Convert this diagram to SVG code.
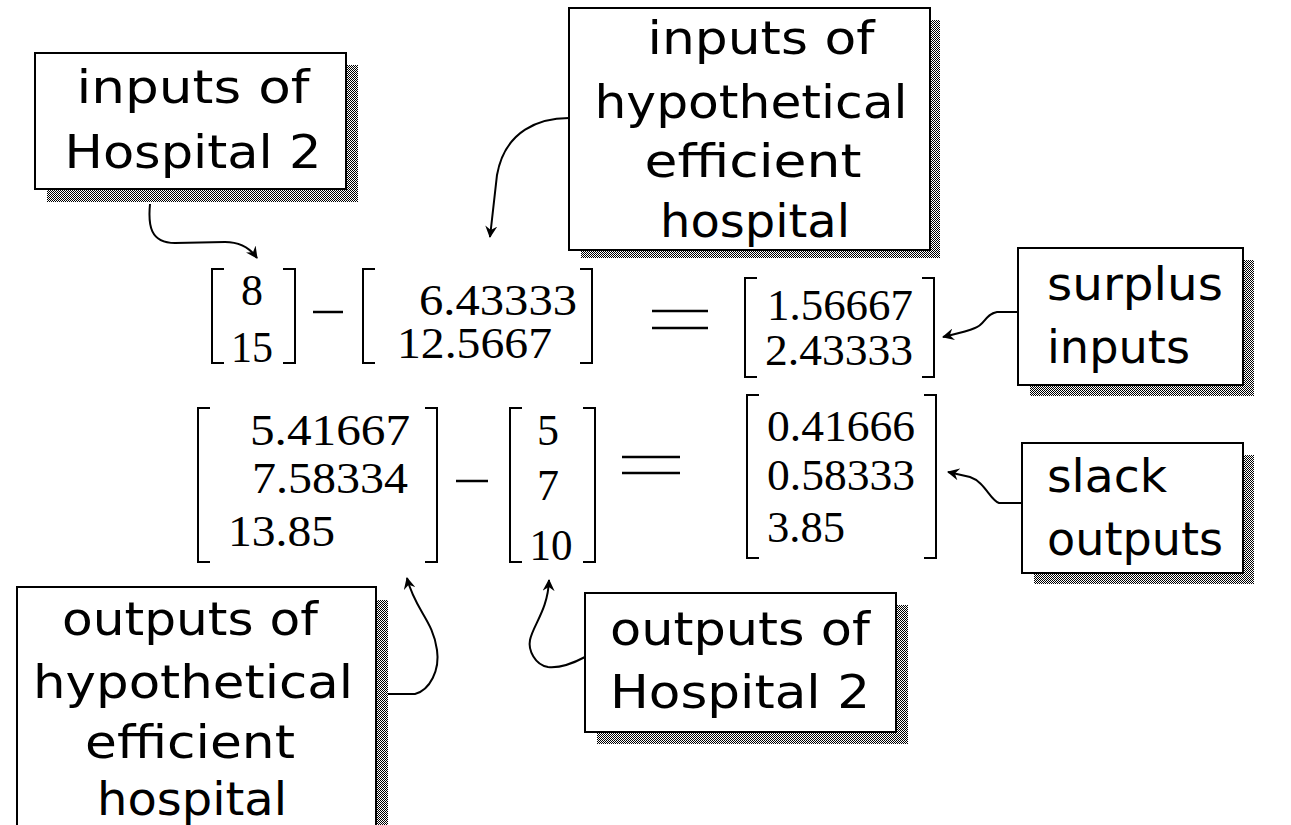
<svg xmlns="http://www.w3.org/2000/svg" width="1291" height="825" viewBox="0 0 1291 825">
<defs>
<pattern id="dither" width="2" height="2" patternUnits="userSpaceOnUse"><rect width="2" height="2" fill="#fff"/><rect width="1" height="1" fill="#000"/><rect x="1" y="1" width="1" height="1" fill="#000"/></pattern>
<marker id="head" viewBox="0 0 12 12" refX="11" refY="6" markerWidth="12" markerHeight="12" markerUnits="userSpaceOnUse" orient="auto"><path d="M0,0 L12,6 L0,12 L4,6 Z" fill="#000"/></marker>
</defs>
<style>
.box{fill:#fff;stroke:#000;stroke-width:2}
.shadow{fill:url(#dither)}
.lbl{font-family:"DejaVu Sans","Liberation Sans",sans-serif;font-size:47px;fill:#000}
.num{font-family:"Liberation Serif","DejaVu Serif",serif;font-size:44px;fill:#000}
.br{fill:none;stroke:#000;stroke-width:2}
.op{stroke:#000;stroke-width:2.5}
.conn{fill:none;stroke:#000;stroke-width:2;marker-end:url(#head)}
</style>
<rect width="1291" height="825" fill="#fff"/>

<g id="connectors">
<path class="conn" d="M150,204 C148,225 150,243 175,243 L225,242 C240,242 250,248 257,258"/>
<path class="conn" d="M569,118 C540,118 505,130 497,175 L490,237"/>
<path class="conn" d="M1018,312 L997,312 C985,314 985,325 975,328 C965,332 955,334 943,337"/>
<path class="conn" d="M1022,503 L999,503 C990,500 985,482 970,477 L948,472"/>
<path class="conn" d="M387,694 L415,694 C430,690 440,670 437,650 C433,620 415,610 407,578"/>
<path class="conn" d="M585,657 C570,665 558,668 548,667 C535,665 528,650 530,640 C533,625 548,610 549,580"/>
</g>

<g id="box-inputs-h2">
<rect class="shadow" x="47" y="65" width="311" height="137"/>
<rect class="box" x="35" y="53" width="311" height="136"/>
<text class="lbl" x="193" y="103" text-anchor="middle" textLength="233" lengthAdjust="spacingAndGlyphs">inputs of</text>
<text class="lbl" x="193" y="168" text-anchor="middle" textLength="257" lengthAdjust="spacingAndGlyphs">Hospital 2</text>
</g>

<g id="box-inputs-hyp">
<rect class="shadow" x="581" y="20" width="359" height="238"/>
<rect class="box" x="569" y="8" width="361" height="242"/>
<text class="lbl" x="761" y="54" text-anchor="middle" textLength="227" lengthAdjust="spacingAndGlyphs">inputs of</text>
<text class="lbl" x="751" y="118" text-anchor="middle" textLength="313" lengthAdjust="spacingAndGlyphs">hypothetical</text>
<text class="lbl" x="753" y="177" text-anchor="middle" textLength="217" lengthAdjust="spacingAndGlyphs">efficient</text>
<text class="lbl" x="755" y="237" text-anchor="middle" textLength="190" lengthAdjust="spacingAndGlyphs">hospital</text>
</g>

<g id="box-surplus">
<rect class="shadow" x="1030" y="260" width="224" height="136"/>
<rect class="box" x="1018" y="248" width="225" height="137"/>
<text class="lbl" x="1047" y="300" textLength="176" lengthAdjust="spacingAndGlyphs">surplus</text>
<text class="lbl" x="1047" y="363" textLength="143" lengthAdjust="spacingAndGlyphs">inputs</text>
</g>

<g id="box-slack">
<rect class="shadow" x="1034" y="455" width="220" height="129"/>
<rect class="box" x="1022" y="443" width="221" height="130"/>
<text class="lbl" x="1047" y="492" textLength="120" lengthAdjust="spacingAndGlyphs">slack</text>
<text class="lbl" x="1047" y="555" textLength="176" lengthAdjust="spacingAndGlyphs">outputs</text>
</g>

<g id="box-outputs-hyp">
<rect class="shadow" x="29" y="600" width="359" height="260"/>
<rect class="box" x="17" y="587" width="359" height="260"/>
<text class="lbl" x="190" y="635" text-anchor="middle" textLength="256" lengthAdjust="spacingAndGlyphs">outputs of</text>
<text class="lbl" x="193" y="698" text-anchor="middle" textLength="320" lengthAdjust="spacingAndGlyphs">hypothetical</text>
<text class="lbl" x="190" y="758" text-anchor="middle" textLength="210" lengthAdjust="spacingAndGlyphs">efficient</text>
<text class="lbl" x="192" y="815" text-anchor="middle" textLength="190" lengthAdjust="spacingAndGlyphs">hospital</text>
</g>

<g id="box-outputs-h2">
<rect class="shadow" x="597" y="605" width="311" height="139"/>
<rect class="box" x="585" y="593" width="311" height="139"/>
<text class="lbl" x="610" y="645" textLength="260" lengthAdjust="spacingAndGlyphs">outputs of</text>
<text class="lbl" x="610" y="708" textLength="260" lengthAdjust="spacingAndGlyphs">Hospital 2</text>
</g>

<g id="equation-1">
<path class="br" d="M224,269 H212 V363 H224 M283,269 H295 V363 H283"/>
<text class="num" x="252" y="305" text-anchor="middle">8</text>
<text class="num" x="252" y="362" text-anchor="middle" textLength="42" lengthAdjust="spacingAndGlyphs">15</text>
<line class="op" x1="313" y1="312" x2="343" y2="312"/>
<path class="br" d="M375,269 H363 V363 H375 M580,269 H592 V363 H580"/>
<text class="num" x="419" y="315" textLength="158" lengthAdjust="spacingAndGlyphs">6.43333</text>
<text class="num" x="397" y="358" textLength="155" lengthAdjust="spacingAndGlyphs">12.5667</text>
<line class="op" x1="652" y1="311" x2="708" y2="311"/>
<line class="op" x1="652" y1="328" x2="708" y2="328"/>
<path class="br" d="M757,278 H745 V377 H757 M922,278 H934 V377 H922"/>
<text class="num" x="767" y="320" textLength="146" lengthAdjust="spacingAndGlyphs">1.56667</text>
<text class="num" x="765" y="365" textLength="148" lengthAdjust="spacingAndGlyphs">2.43333</text>
</g>

<g id="equation-2">
<path class="br" d="M210,408 H198 V562 H210 M425,408 H437 V562 H425"/>
<text class="num" x="250" y="445" textLength="160" lengthAdjust="spacingAndGlyphs">5.41667</text>
<text class="num" x="252" y="493" textLength="156" lengthAdjust="spacingAndGlyphs">7.58334</text>
<text class="num" x="228" y="546" textLength="107" lengthAdjust="spacingAndGlyphs">13.85</text>
<line class="op" x1="456" y1="481" x2="488" y2="481"/>
<path class="br" d="M522,408 H510 V562 H522 M583,408 H595 V562 H583"/>
<text class="num" x="548" y="445" text-anchor="middle">5</text>
<text class="num" x="548" y="500" text-anchor="middle">7</text>
<text class="num" x="551" y="560" text-anchor="middle" textLength="43" lengthAdjust="spacingAndGlyphs">10</text>
<line class="op" x1="622" y1="457" x2="680" y2="457"/>
<line class="op" x1="622" y1="473" x2="680" y2="473"/>
<path class="br" d="M759,395 H747 V558 H759 M924,395 H936 V558 H924"/>
<text class="num" x="767" y="441" textLength="148" lengthAdjust="spacingAndGlyphs">0.41666</text>
<text class="num" x="767" y="490" textLength="148" lengthAdjust="spacingAndGlyphs">0.58333</text>
<text class="num" x="767" y="542" textLength="78" lengthAdjust="spacingAndGlyphs">3.85</text>
</g>
</svg>
